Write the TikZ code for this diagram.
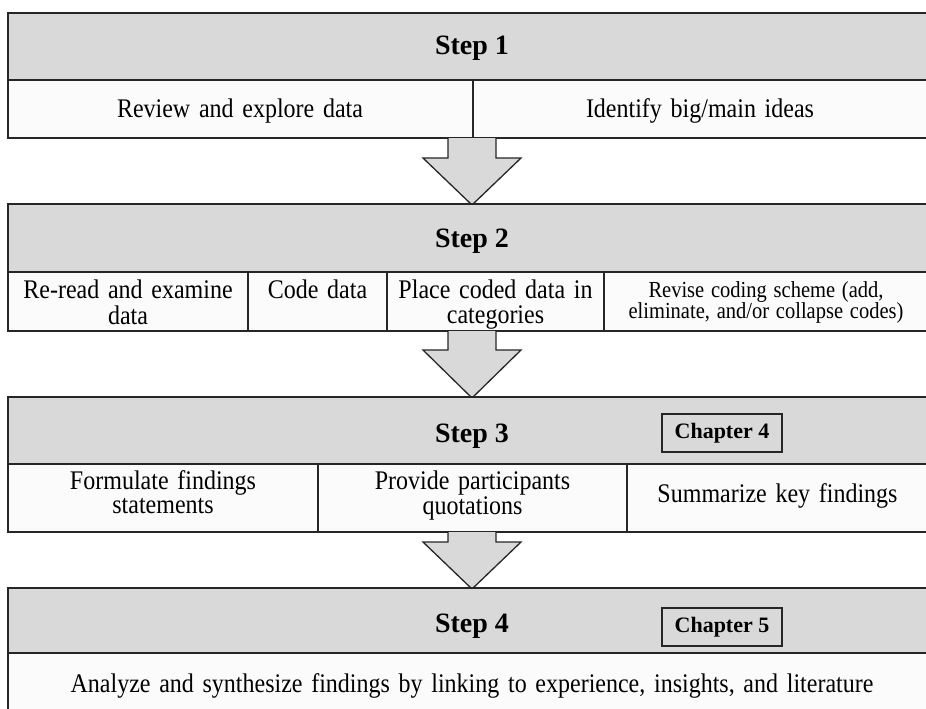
\documentclass[tikz,border=0pt]{standalone}
\usepackage{fontspec}
\usepackage{graphicx}
\setmainfont{Liberation Serif}
\definecolor{headgray}{HTML}{D9D9D9}
\definecolor{rowwhite}{HTML}{FBFBFB}
\definecolor{edgegray}{HTML}{262626}
% cell text: a centred stack of lines, a little taller than wide
\newcommand{\cellstack}[1]{\scalebox{1}[1.12]{\begin{tabular}[t]{@{}c@{}}#1\end{tabular}}}
\newcommand{\bodyfont}{\fontsize{24}{22.3}\selectfont\spaceskip=8.7pt plus 2pt minus 1pt\relax}
\newcommand{\smallfont}{\fontsize{20.5}{18}\selectfont\spaceskip=6.8pt plus 2pt minus 1pt\relax}
\tikzset{
  headbox/.style={draw=edgegray, line width=1.3pt, fill=headgray},
  rowbox/.style={draw=edgegray, line width=1.3pt, fill=rowwhite},
  divider/.style={draw=edgegray, line width=1.3pt},
  bigarrow/.style={draw=edgegray, line width=1.3pt, fill=headgray, line join=miter},
  steplabel/.style={font=\fontsize{28}{30}\selectfont\bfseries, inner sep=0pt, anchor=base},
  celltext/.style={font=\bodyfont, inner sep=0pt, anchor=base},
  smalltext/.style={font=\smallfont, inner sep=0pt, anchor=base},
  chapbox/.style={draw=edgegray, line width=1.3pt, font=\fontsize{22}{24}\selectfont\bfseries,
    minimum width=120pt, minimum height=38pt, inner sep=0pt}
}
\begin{document}
\begin{tikzpicture}[x=1pt, y=-1pt]
  \useasboundingbox (0,0) rectangle (926,709);
  \clip (0,0) rectangle (926,709);
  \fill[white] (0,0) rectangle (926,709);

  % Step 1: review and explore
  \draw[headbox] (8,13) rectangle (928,80);
  \draw[rowbox] (8,80) rectangle (928,138);
  \draw[divider] (473,80) -- (473,138);
  \node[steplabel] (step1) at (472,55) {Step 1};
  \node[celltext] (review) at (240,117) {\cellstack{Review and explore data}};
  \node[celltext] (identify) at (700,117) {\cellstack{Identify big/main ideas}};

  % Arrow from step 1 to step 2
  \draw[bigarrow] (448,138) -- (448,158) -- (423,158) -- (472,205) -- (521,158) -- (496,158) -- (496,138);

  % Step 2: coding
  \draw[headbox] (8,204) rectangle (928,272);
  \draw[rowbox] (8,272) rectangle (928,331);
  \draw[divider] (248,272) -- (248,331);
  \draw[divider] (387,272) -- (387,331);
  \draw[divider] (604,272) -- (604,331);
  \node[steplabel] (step2) at (472,247) {Step 2};
  \node[celltext] (reread) at (128,298) {\cellstack{Re-read and examine\\data}};
  \node[celltext] (code) at (317.5,298) {\cellstack{Code data}};
  \node[celltext] (place) at (495.5,298) {\cellstack{Place coded data in\\categories}};
  \node[smalltext] (revise) at (766,297) {\cellstack{Revise coding scheme (add,\\eliminate, and/or collapse codes)}};

  % Arrow from step 2 to step 3
  \draw[bigarrow] (448,331) -- (448,350) -- (423,350) -- (472,398) -- (521,350) -- (496,350) -- (496,331);

  % Step 3: findings (Chapter 4)
  \draw[headbox] (8,397) rectangle (928,464);
  \draw[rowbox] (8,464) rectangle (928,532);
  \draw[divider] (318,464) -- (318,532);
  \draw[divider] (627,464) -- (627,532);
  \node[steplabel] (step3) at (472,442) {Step 3};
  \node[chapbox] (chap4) at (722,433) {Chapter 4};
  \node[celltext] (formulate) at (163,489) {\cellstack{Formulate findings\\statements}};
  \node[celltext] (provide) at (472.5,489) {\cellstack{Provide participants\\quotations}};
  \node[celltext] (summarize) at (777.5,502) {\cellstack{Summarize key findings}};

  % Arrow from step 3 to step 4
  \draw[bigarrow] (448,532) -- (448,542) -- (423,542) -- (472,589) -- (521,542) -- (496,542) -- (496,532);

  % Step 4: discussion (Chapter 5)
  \draw[headbox] (8,588) rectangle (928,653);
  \draw[rowbox] (8,653) rectangle (928,712);
  \node[steplabel] (step4) at (472,632) {Step 4};
  \node[chapbox] (chap5) at (722,627) {Chapter 5};
  \node[celltext] (analyze) at (472,692) {\cellstack{Analyze and synthesize findings by linking to experience, insights, and literature}};
\end{tikzpicture}
\end{document}
